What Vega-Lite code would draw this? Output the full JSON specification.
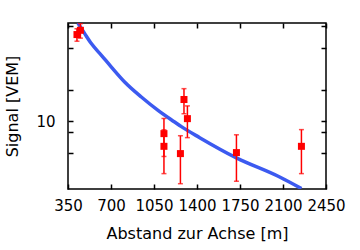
{
  "$schema": "https://vega.github.io/schema/vega-lite/v6.json",
  "width": 258,
  "height": 166,
  "autosize": {"type": "none"},
  "padding": {"left": 68, "top": 23, "right": 34, "bottom": 61},
  "config": {
    "view": {"stroke": "black", "strokeWidth": 1.5},
    "font": "DejaVu Sans",
    "axis": {
      "domain": false,
      "grid": false,
      "labelFont": "DejaVu Sans",
      "labelFontSize": 15,
      "labelColor": "black",
      "labelOverlap": false,
      "labelFlush": false,
      "titleFont": "DejaVu Sans",
      "titleFontSize": 16,
      "titleFontWeight": "normal",
      "titleColor": "black"
    }
  },
  "datasets": {
    "curve": [
      {"r": 431, "s": 85.6},
      {"r": 486, "s": 67.9},
      {"r": 540, "s": 54.6},
      {"r": 622, "s": 42.3},
      {"r": 703, "s": 32.7},
      {"r": 811, "s": 23.6},
      {"r": 947, "s": 17.0},
      {"r": 1083, "s": 12.7},
      {"r": 1218, "s": 9.85},
      {"r": 1273, "s": 8.9},
      {"r": 1422, "s": 7.0},
      {"r": 1721, "s": 4.5},
      {"r": 2073, "s": 2.96},
      {"r": 2250, "s": 2.30}
    ],
    "points": [
      {"r": 423, "s": 66.5, "lo": 57.5, "hi": 75.5},
      {"r": 451, "s": 73, "lo": 61.5, "hi": 84.5},
      {"r": 1131, "s": 7.64, "lo": 4.64, "hi": 10.64},
      {"r": 1131, "s": 5.79, "lo": 3.19, "hi": 8.3},
      {"r": 1265, "s": 4.94, "lo": 2.56, "hi": 7.3},
      {"r": 1294, "s": 16.1, "lo": 11.8, "hi": 20.4},
      {"r": 1322, "s": 10.6, "lo": 7.0, "hi": 14.0},
      {"r": 1721, "s": 5.05, "lo": 2.7, "hi": 7.45},
      {"r": 2250, "s": 5.79, "lo": 3.19, "hi": 8.34}
    ]
  },
  "layer": [
    {
      "data": {"name": "curve"},
      "mark": {"type": "line", "color": "#3c5af0", "strokeWidth": 3.5, "interpolate": "monotone", "clip": true},
      "encoding": {
        "x": {"field": "r", "type": "quantitative",
          "scale": {"domain": [350, 2450], "nice": false, "zero": false},
          "axis": {"orient": "bottom", "values": [350, 700, 1050, 1400, 1750, 2100, 2450], "format": "d", "ticks": true, "tickSize": 5, "tickWidth": 1.5, "tickColor": "#000000", "offset": -5, "zindex": 2, "labelPadding": 9, "title": "Abstand zur Achse [m]", "titlePadding": 12}},
        "y": {"field": "s", "type": "quantitative",
          "scale": {"type": "log", "domain": [2.28, 85.6], "nice": false, "zero": false},
          "axis": {"orient": "left", "values": [5, 8, 10, 20, 50, 80], "labelExpr": "datum.value == 10 ? '10' : ''", "ticks": true, "tickSize": 5, "tickWidth": 1.5, "tickColor": "#000000", "offset": -5, "zindex": 2, "labelPadding": 13, "title": "Signal [VEM]", "titlePadding": 15}}
      }
    },
    {
      "data": {"name": "points"},
      "mark": {"type": "rule", "color": "#ff0000", "strokeWidth": 1.5, "clip": true},
      "encoding": {
        "x": {"field": "r", "type": "quantitative",
          "scale": {"domain": [350, 2450], "nice": false, "zero": false},
          "axis": {"orient": "top", "values": [350, 700, 1050, 1400, 1750, 2100, 2450], "ticks": true, "tickSize": 5, "tickWidth": 1.5, "tickColor": "#000000", "offset": -5, "zindex": 2, "labels": false, "title": null}},
        "y": {"field": "lo", "type": "quantitative",
          "scale": {"type": "log", "domain": [2.28, 85.6], "nice": false, "zero": false},
          "axis": {"orient": "right", "values": [5, 8, 10, 20, 50, 80], "ticks": true, "tickSize": 5, "tickWidth": 1.5, "tickColor": "#000000", "offset": -5, "zindex": 2, "labels": false, "title": null}},
        "y2": {"field": "hi"}
      }
    },
    {
      "data": {"name": "points"},
      "mark": {"type": "tick", "orient": "horizontal", "color": "#ff0000", "size": 5, "thickness": 1.5, "clip": true},
      "encoding": {
        "x": {"field": "r", "type": "quantitative", "scale": {"domain": [350, 2450], "nice": false, "zero": false}, "axis": null},
        "y": {"field": "lo", "type": "quantitative", "scale": {"type": "log", "domain": [2.28, 85.6], "nice": false, "zero": false}, "axis": null}
      }
    },
    {
      "data": {"name": "points"},
      "mark": {"type": "tick", "orient": "horizontal", "color": "#ff0000", "size": 5, "thickness": 1.5, "clip": true},
      "encoding": {
        "x": {"field": "r", "type": "quantitative", "scale": {"domain": [350, 2450], "nice": false, "zero": false}, "axis": null},
        "y": {"field": "hi", "type": "quantitative", "scale": {"type": "log", "domain": [2.28, 85.6], "nice": false, "zero": false}, "axis": null}
      }
    },
    {
      "data": {"name": "points"},
      "mark": {"type": "square", "color": "#ff0000", "filled": true, "opacity": 1, "size": 49, "clip": true},
      "encoding": {
        "x": {"field": "r", "type": "quantitative", "scale": {"domain": [350, 2450], "nice": false, "zero": false}, "axis": null},
        "y": {"field": "s", "type": "quantitative", "scale": {"type": "log", "domain": [2.28, 85.6], "nice": false, "zero": false}, "axis": null}
      }
    }
  ],
  "resolve": {
    "scale": {"x": "independent", "y": "independent"},
    "axis": {"x": "independent", "y": "independent"}
  }
}
